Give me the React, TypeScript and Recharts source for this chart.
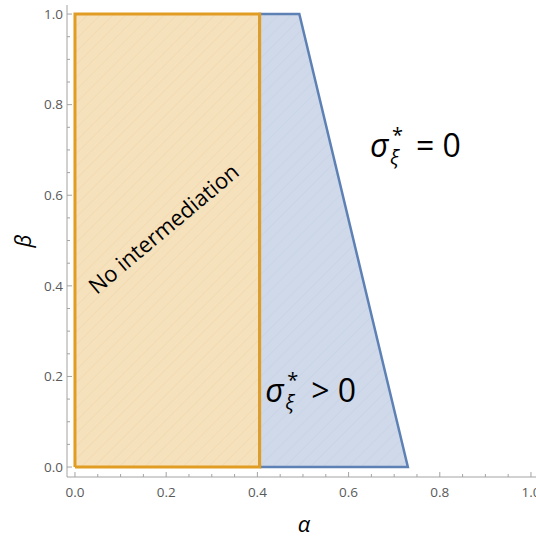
import React from 'react';
import { ComposedChart, Area, Scatter, XAxis, YAxis, ReferenceDot } from 'recharts';

// corners of the two regions in (alpha, beta)
const noIntermediationCorners = [
  { alpha: 0, beta: 0 },
  { alpha: 0, beta: 1 },
  { alpha: 0.405, beta: 1 },
  { alpha: 0.405, beta: 0 },
  { alpha: 0, beta: 0 },
];
const positiveSigmaCorners = [
  { alpha: 0.405, beta: 0 },
  { alpha: 0.405, beta: 1 },
  { alpha: 0.492, beta: 1 },
  { alpha: 0.73, beta: 0 },
  { alpha: 0.405, beta: 0 },
];

// upper edges used for the fills
const orangeTop = [
  { alpha: 0, beta: 1 },
  { alpha: 0.405, beta: 1 },
];
const blueTop = [
  { alpha: 0.405, beta: 1 },
  { alpha: 0.492, beta: 1 },
  { alpha: 0.73, beta: 0 },
];

const tickValues = [0, 0.05, 0.1, 0.15, 0.2, 0.25, 0.3, 0.35, 0.4, 0.45, 0.5, 0.55, 0.6, 0.65, 0.7, 0.75, 0.8, 0.85, 0.9, 0.95, 1];
const majorLabels = ['0.0', '0.2', '0.4', '0.6', '0.8', '1.0'];

// annotation anchors (data coords)
const labelNoIntermediation = { alpha: 0.193, beta: 0.528, text: 'No intermediation' };
const labelSigmaZero = { alpha: 0.647, beta: 0.684, op: '=' };
const labelSigmaPositive = { alpha: 0.417, beta: 0.1435, op: '>' };

const ORANGE = '#E19C24';
const BLUE = '#5E81B5';
const AXIS = '#a3a3a3';
const TICK_TEXT = '#5a5a5a';
const FONT = '"Open Sans", "DejaVu Sans", sans-serif';

// merge both top edges into one table for the Area series
const regionTable = (() => {
  const rows: Record<number, { alpha: number; orange: number | null; blue: number | null }> = {};
  orangeTop.forEach((p) => {
    rows[p.alpha] = rows[p.alpha] || { alpha: p.alpha, orange: null, blue: null };
    rows[p.alpha].orange = p.beta;
  });
  blueTop.forEach((p) => {
    rows[p.alpha] = rows[p.alpha] || { alpha: p.alpha, orange: null, blue: null };
    rows[p.alpha].blue = p.beta;
  });
  return Object.values(rows).sort((a, b) => a.alpha - b.alpha);
})();

const majorIndex = (v: number) => {
  const k = Math.round(v * 100);
  return k % 20 === 0 ? k / 20 : -1;
};

const BottomTick = (props: any) => {
  const { x, y, payload } = props;
  const m = majorIndex(payload.value);
  return (
    <g>
      <line x1={x} x2={x} y1={y} y2={y - (m >= 0 ? 5 : 3)} stroke={AXIS} />
      {m >= 0 && (
        <text x={x} y={y + 20} textAnchor="middle" fontSize={13.5} fill={TICK_TEXT} fontFamily={FONT}>
          {majorLabels[m]}
        </text>
      )}
    </g>
  );
};

const LeftTick = (props: any) => {
  const { x, y, payload } = props;
  const m = majorIndex(payload.value);
  return (
    <g>
      <line x1={x} x2={x + (m >= 0 ? 5 : 3)} y1={y} y2={y} stroke={AXIS} />
      {m >= 0 && (
        <text x={x - 4} y={y + 4.8} textAnchor="end" fontSize={13.5} fill={TICK_TEXT} fontFamily={FONT}>
          {majorLabels[m]}
        </text>
      )}
    </g>
  );
};

const TopTick = (props: any) => {
  const { x, y, payload } = props;
  const m = majorIndex(payload.value);
  return <line x1={x} x2={x} y1={y} y2={y + (m >= 0 ? 4 : 2)} stroke={AXIS} />;
};

const RightTick = (props: any) => {
  const { x, y, payload } = props;
  const m = majorIndex(payload.value);
  return <line x1={x} x2={x - (m >= 0 ? 4 : 2)} y1={y} y2={y} stroke={AXIS} />;
};

// sigma with star superscript and xi subscript, kept in one text element
const SigmaLabel = ({ cx, cy, op }: { cx: number; cy: number; op: string }) => (
  <text x={cx} y={cy} fontFamily={FONT} fill="#000" fontSize={32}>
    <tspan fontStyle="italic">σ</tspan>
    <tspan x={cx + 22} dy={-15} fontSize={20}>*</tspan>
    <tspan x={cx + 20} dy={22} fontSize={20} fontStyle="italic">ξ</tspan>
    <tspan x={cx + 46} dy={-7}>{`${op} 0`}</tspan>
  </text>
);

const nothing = () => <g />;

export default function App() {
  return (
    <div style={{ position: 'absolute', left: 0, top: 0, width: 536, height: 540, overflow: 'hidden', background: '#fff' }}>
      <ComposedChart width={560} height={540} data={regionTable} margin={{ top: 5, right: 24, bottom: 8, left: 7 }}>
        <defs>
          <pattern id="hatchOrange" width="9" height="9" patternUnits="userSpaceOnUse" patternTransform="rotate(45)">
            <rect width="9" height="9" fill="#F6E1BD" />
            <line x1="0" y1="0" x2="0" y2="9" stroke="#EFD5A8" strokeWidth="1" />
          </pattern>
          <pattern id="hatchBlue" width="9" height="9" patternUnits="userSpaceOnUse" patternTransform="rotate(45)">
            <rect width="9" height="9" fill="#CFD9E9" />
            <line x1="0" y1="0" x2="0" y2="9" stroke="#C3CFE3" strokeWidth="1" />
          </pattern>
        </defs>
        <XAxis
          dataKey="alpha"
          type="number"
          domain={[-0.0175, 1.011]}
          allowDataOverflow
          ticks={tickValues}
          interval={0}
          height={55}
          stroke={AXIS}
          tickLine={false}
          tickSize={0}
          tickMargin={0}
          tick={BottomTick}
          label={{
            content: () => (
              <text x={304} y={532} textAnchor="middle" fontSize={22} fontStyle="italic" fontFamily={FONT} fill="#000">
                α
              </text>
            ),
          }}
        />
        <XAxis
          xAxisId="top"
          orientation="top"
          type="number"
          domain={[-0.0175, 1.011]}
          allowDataOverflow
          ticks={tickValues}
          interval={0}
          height={0}
          axisLine={false}
          tickLine={false}
          tickSize={0}
          tickMargin={0}
          tick={TopTick}
        />
        <YAxis
          dataKey="beta"
          type="number"
          domain={[-0.022, 1.02]}
          allowDataOverflow
          ticks={tickValues}
          interval={0}
          width={60}
          stroke={AXIS}
          tickLine={false}
          tickSize={0}
          tickMargin={0}
          tick={LeftTick}
          label={{
            content: () => (
              <text
                x={31}
                y={241}
                textAnchor="middle"
                fontSize={22}
                fontStyle="italic"
                fontFamily={FONT}
                fill="#000"
                transform="rotate(-90 31 241)"
              >
                β
              </text>
            ),
          }}
        />
        <YAxis
          yAxisId="right"
          orientation="right"
          type="number"
          domain={[-0.022, 1.02]}
          allowDataOverflow
          ticks={tickValues}
          interval={0}
          width={0}
          axisLine={false}
          tickLine={false}
          tickSize={0}
          tickMargin={0}
          tick={RightTick}
        />
        <Area
          type="linear"
          dataKey="blue"
          baseValue={0}
          fill="url(#hatchBlue)"
          fillOpacity={1}
          stroke="none"
          isAnimationActive={false}
          dot={false}
          activeDot={false}
        />
        <Area
          type="linear"
          dataKey="orange"
          baseValue={0}
          fill="url(#hatchOrange)"
          fillOpacity={1}
          stroke="none"
          isAnimationActive={false}
          dot={false}
          activeDot={false}
        />
        <Scatter
          data={positiveSigmaCorners}
          dataKey="beta"
          line={{ stroke: BLUE, strokeWidth: 2.5 }}
          lineType="joint"
          shape={nothing}
          isAnimationActive={false}
        />
        <Scatter
          data={noIntermediationCorners}
          dataKey="beta"
          line={{ stroke: ORANGE, strokeWidth: 3 }}
          lineType="joint"
          shape={nothing}
          isAnimationActive={false}
        />
        <ReferenceDot
          x={labelNoIntermediation.alpha}
          y={labelNoIntermediation.beta}
          r={0}
          shape={(p: any) => (
            <text
              x={p.cx}
              y={p.cy}
              textAnchor="middle"
              dominantBaseline="central"
              fontSize={22}
              fontFamily={FONT}
              fill="#000"
              transform={`rotate(-40 ${p.cx} ${p.cy})`}
            >
              {labelNoIntermediation.text}
            </text>
          )}
        />
        <ReferenceDot
          x={labelSigmaZero.alpha}
          y={labelSigmaZero.beta}
          r={0}
          shape={(p: any) => <SigmaLabel cx={p.cx} cy={p.cy} op={labelSigmaZero.op} />}
        />
        <ReferenceDot
          x={labelSigmaPositive.alpha}
          y={labelSigmaPositive.beta}
          r={0}
          shape={(p: any) => <SigmaLabel cx={p.cx} cy={p.cy} op={labelSigmaPositive.op} />}
        />
      </ComposedChart>
    </div>
  );
}
